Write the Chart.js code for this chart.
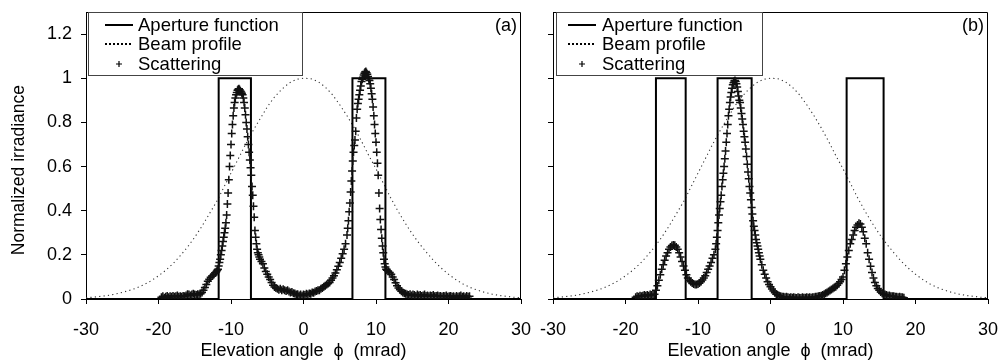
<!DOCTYPE html>
<html>
<head>
<meta charset="utf-8">
<script src="https://cdn.jsdelivr.net/npm/chart.js@4.4.0/dist/chart.umd.min.js"></script>
<style>
    html, body { margin: 0; padding: 0; background: #fff; }
    #wrap { position: relative; width: 999px; height: 362px; }
    #wrap canvas { position: absolute; left: 0; top: 0; }
</style>
</head>
<body>
<div id="wrap">
    <canvas id="chartA" width="999" height="362"></canvas>
    <canvas id="chartB" width="999" height="362"></canvas>
</div>
<script>
// ticks
var xTicks = [-30, -20, -10, 0, 10, 20, 30];
var yTickLabels = [0, 0.2, 0.4, 0.6, 0.8, 1, 1.2];

// beam profile (same in both panels)
var beamX = [-30, -29, -28, -27, -26, -25, -24, -23, -22, -21,
    -20, -19, -18, -17, -16, -15, -14, -13, -12, -11,
    -10, -9, -8, -7, -6, -5, -4, -3, -2, -1,
    0,
    1, 2, 3, 4, 5, 6, 7, 8, 9, 10,
    11, 12, 13, 14, 15, 16, 17, 18, 19, 20,
    21, 22, 23, 24, 25, 26, 27, 28, 29, 30];
var beamY = [0.006, 0.008, 0.012, 0.016, 0.022, 0.03, 0.039, 0.05, 0.065, 0.083,
    0.105, 0.13, 0.16, 0.196, 0.235, 0.28, 0.33, 0.385, 0.44, 0.505,
    0.57, 0.635, 0.70, 0.76, 0.815, 0.87, 0.915, 0.95, 0.978, 0.995,
    1.0,
    0.998, 0.985, 0.96, 0.925, 0.88, 0.83, 0.775, 0.715, 0.65, 0.59,
    0.525, 0.46, 0.4, 0.345, 0.295, 0.25, 0.21, 0.172, 0.14, 0.112,
    0.088, 0.068, 0.052, 0.04, 0.03, 0.022, 0.016, 0.012, 0.008, 0.006];

// aperture functions
var apertureAX = [-30, -11.7, -11.7, -7.25, -7.25, 6.75, 6.75, 11.3, 11.3, 30];
var apertureAY = [0, 0, 1, 1, 0, 0, 1, 1, 0, 0];
var apertureBX = [-30, -15.8, -15.8, -11.7, -11.7, -7.3, -7.3, -2.6, -2.6, 10.5, 10.5, 15.6, 15.6, 30];
var apertureBY = [0, 0, 1, 1, 0, 0, 1, 1, 0, 0, 1, 1, 0, 0];

// scattering, panel (a)
var scatAX = [
    -19.6, -19.4, -19.2, -19.0, -18.8, -18.6, -18.4, -18.2, -18.0,
    -17.8, -17.6, -17.4, -17.2, -17.0, -16.8, -16.6, -16.4, -16.2, -16.0,
    -15.8, -15.6, -15.4, -15.2, -15.0, -14.8, -14.6, -14.4, -14.2, -14.0,
    -13.8, -13.6, -13.4, -13.2, -13.0, -12.8, -12.6, -12.4, -12.2,
    -12.1, -12.0, -11.9, -11.8, -11.7, -11.6, -11.5, -11.4, -11.3, -11.2,
    -11.1, -11.0, -10.9, -10.8, -10.7, -10.6, -10.5, -10.4, -10.3, -10.2,
    -10.1, -10.0, -9.9, -9.8, -9.7, -9.6, -9.5, -9.4, -9.3, -9.2,
    -9.1, -9.0, -8.9, -8.8, -8.7, -8.6, -8.5, -8.4, -8.3, -8.2,
    -8.1, -8.0, -7.9, -7.8, -7.7, -7.6, -7.5, -7.4, -7.3, -7.2,
    -7.1, -7.0, -6.9, -6.8, -6.7, -6.6, -6.5, -6.4, -6.3, -6.2,
    -6.1, -6.0,
    -5.8, -5.6, -5.4, -5.2, -5.0, -4.8, -4.6, -4.4, -4.2, -4.0,
    -3.8, -3.6, -3.4, -3.2, -3.0, -2.8, -2.6, -2.4, -2.2, -2.0,
    -1.8, -1.6, -1.4, -1.2, -1.0, -0.8, -0.6, -0.4, -0.2, 0.0,
    0.2, 0.4, 0.6, 0.8, 1.0, 1.2, 1.4, 1.6, 1.8, 2.0,
    2.2, 2.4, 2.6, 2.8, 3.0, 3.2, 3.4, 3.6, 3.8, 4.0,
    4.2, 4.4, 4.6, 4.8, 5.0, 5.2, 5.4, 5.6, 5.8, 6.0,
    6.1, 6.2, 6.3, 6.4, 6.5, 6.6, 6.7, 6.8, 6.9, 7.0,
    7.1, 7.2, 7.3, 7.4, 7.5, 7.6, 7.7, 7.8, 7.9, 8.0,
    8.1, 8.2, 8.3, 8.4, 8.5, 8.6, 8.7, 8.8, 8.9, 9.0,
    9.1, 9.2, 9.3, 9.4, 9.5, 9.6, 9.7, 9.8, 9.9, 10.0,
    10.1, 10.2, 10.3, 10.4, 10.5, 10.6, 10.7, 10.8, 10.9, 11.0,
    11.1, 11.2, 11.3, 11.4, 11.5,
    11.7, 11.9, 12.1, 12.3, 12.5, 12.7, 12.9, 13.1, 13.3, 13.5,
    13.7, 13.9, 14.1, 14.3, 14.5, 14.7, 14.9, 15.1, 15.3, 15.5,
    15.7, 15.9, 16.1, 16.3, 16.5, 16.7, 16.9, 17.1, 17.3, 17.5,
    17.7, 17.9, 18.1, 18.3, 18.5, 18.7, 18.9, 19.1, 19.3, 19.5,
    19.7, 19.9, 20.1, 20.3, 20.5, 20.7, 20.9, 21.1, 21.3, 21.5,
    21.7, 21.9, 22.1, 22.3, 22.5, 22.7, 22.9];
var scatAY = [
    0.008, 0.012, 0.006, 0.01, 0.014, 0.008, 0.012, 0.01, 0.014,
    0.01, 0.012, 0.016, 0.01, 0.012, 0.01, 0.014, 0.012, 0.016, 0.022,
    0.02, 0.016, 0.02, 0.024, 0.02, 0.018, 0.022, 0.02, 0.024, 0.03,
    0.04, 0.052, 0.066, 0.08, 0.09, 0.098, 0.104, 0.11, 0.118,
    0.12, 0.125, 0.13, 0.135, 0.15, 0.165, 0.18, 0.2, 0.22, 0.24,
    0.26, 0.28, 0.3, 0.32, 0.345, 0.38, 0.43, 0.48, 0.54, 0.6,
    0.65, 0.7, 0.75, 0.79, 0.83, 0.865, 0.89, 0.91, 0.925, 0.935,
    0.945, 0.95, 0.952, 0.948, 0.942, 0.938, 0.932, 0.925, 0.91, 0.89,
    0.865, 0.835, 0.8, 0.77, 0.735, 0.7, 0.665, 0.63, 0.595, 0.56,
    0.51, 0.47, 0.42, 0.37, 0.31, 0.28, 0.25, 0.225, 0.21, 0.2,
    0.19, 0.18,
    0.17, 0.16, 0.14, 0.125, 0.112, 0.1, 0.088, 0.075, 0.062, 0.054,
    0.05, 0.046, 0.042, 0.046, 0.04, 0.044, 0.04, 0.036, 0.04, 0.034,
    0.03, 0.032, 0.026, 0.025, 0.02, 0.022, 0.016, 0.02, 0.015, 0.02,
    0.018, 0.024, 0.02, 0.025, 0.024, 0.03, 0.028, 0.034, 0.036, 0.04,
    0.04, 0.046, 0.05, 0.055, 0.06, 0.066, 0.07, 0.075, 0.085, 0.095,
    0.105, 0.118, 0.132, 0.148, 0.165, 0.185, 0.205, 0.225, 0.25, 0.29,
    0.32, 0.355, 0.395, 0.435, 0.485, 0.535, 0.58, 0.625, 0.665, 0.695,
    0.72, 0.76, 0.82, 0.86, 0.885, 0.905, 0.925, 0.945, 0.965, 0.985,
    0.995, 1.005, 1.015, 1.022, 1.028, 1.03, 1.025, 1.018, 1.008, 0.998,
    0.99, 0.975, 0.955, 0.93, 0.905, 0.87, 0.83, 0.79, 0.75, 0.71,
    0.665, 0.615, 0.56, 0.48, 0.41, 0.36, 0.315, 0.275, 0.24, 0.21,
    0.18, 0.16, 0.145, 0.135, 0.13,
    0.125, 0.12, 0.112, 0.1, 0.088, 0.074, 0.06, 0.05, 0.042, 0.035,
    0.03, 0.026, 0.024, 0.02, 0.018, 0.022, 0.016, 0.02, 0.018, 0.014,
    0.02, 0.016, 0.018, 0.014, 0.016, 0.02, 0.014, 0.016, 0.012, 0.016,
    0.014, 0.018, 0.012, 0.014, 0.016, 0.012, 0.014, 0.01, 0.014, 0.012,
    0.016, 0.01, 0.012, 0.014, 0.01, 0.012, 0.008, 0.014, 0.01, 0.012,
    0.016, 0.01, 0.012, 0.008, 0.014, 0.01, 0.012];

// scattering, panel (b)
var scatBX = [
    -18.6, -18.4, -18.2, -18.0, -17.8, -17.6, -17.4, -17.2, -17.0, -16.8,
    -16.6, -16.4, -16.2, -16.0, -15.8, -15.6, -15.4, -15.2, -15.0, -14.8,
    -14.6, -14.4, -14.2, -14.0, -13.8, -13.6, -13.4, -13.2, -13.0, -12.8,
    -12.6, -12.4, -12.2, -12.0, -11.8, -11.6, -11.4, -11.2, -11.0, -10.8,
    -10.6, -10.4, -10.2, -10.0, -9.8, -9.6, -9.4, -9.2, -9.0, -8.8,
    -8.6, -8.4, -8.2, -8.0, -7.8, -7.6,
    -7.5, -7.4, -7.3, -7.2, -7.1, -7.0, -6.9, -6.8, -6.7, -6.6,
    -6.5, -6.4, -6.3, -6.2, -6.1, -6.0, -5.9, -5.8, -5.7, -5.6,
    -5.5, -5.4, -5.3, -5.2, -5.1, -5.0, -4.9, -4.8, -4.7, -4.6,
    -4.5, -4.4, -4.3, -4.2, -4.1, -4.0, -3.9, -3.8, -3.7, -3.6,
    -3.5, -3.4, -3.3, -3.2, -3.1, -3.0, -2.9, -2.8, -2.7, -2.6,
    -2.5, -2.4, -2.3, -2.2, -2.1, -2.0, -1.9, -1.8, -1.7, -1.6,
    -1.5, -1.4,
    -1.2, -1.0, -0.8, -0.6, -0.4, -0.2, 0.0, 0.2, 0.4, 0.6,
    0.8, 1.0, 1.2, 1.4, 1.6, 1.8, 2.0, 2.2, 2.4, 2.6,
    2.8, 3.0, 3.2, 3.4, 3.6, 3.8, 4.0, 4.2, 4.4, 4.6,
    4.8, 5.0, 5.2, 5.4, 5.6, 5.8, 6.0, 6.2, 6.4, 6.6,
    6.8, 7.0, 7.2, 7.4, 7.6, 7.8, 8.0, 8.2, 8.4, 8.6,
    8.8, 9.0, 9.2, 9.4, 9.6, 9.8, 10.0, 10.2, 10.4, 10.6,
    10.8, 11.0, 11.2, 11.4, 11.6, 11.8, 12.0, 12.2, 12.4, 12.6,
    12.8, 13.0, 13.2, 13.4, 13.6, 13.8, 14.0, 14.2, 14.4, 14.6,
    14.8, 15.0, 15.2, 15.4, 15.6, 15.8, 16.0, 16.2, 16.4, 16.6,
    16.8, 17.0, 17.2, 17.4, 17.6, 17.8, 18.0, 18.2, 18.4];
var scatBY = [
    0.008, 0.012, 0.01, 0.015, 0.012, 0.015, 0.018, 0.015, 0.018, 0.015,
    0.02, 0.018, 0.02, 0.022, 0.04, 0.06, 0.085, 0.11, 0.135, 0.155,
    0.175, 0.195, 0.21, 0.225, 0.235, 0.242, 0.245, 0.243, 0.235, 0.225,
    0.21, 0.19, 0.17, 0.15, 0.13, 0.11, 0.095, 0.085, 0.078, 0.072,
    0.068, 0.066, 0.066, 0.068, 0.072, 0.078, 0.086, 0.095, 0.105, 0.12,
    0.135, 0.15, 0.165, 0.185, 0.2, 0.225,
    0.25, 0.28, 0.31, 0.345, 0.38, 0.41, 0.44, 0.47, 0.51, 0.54,
    0.57, 0.6, 0.635, 0.67, 0.71, 0.75, 0.79, 0.83, 0.86, 0.89,
    0.915, 0.935, 0.955, 0.97, 0.98, 0.987, 0.99, 0.985, 0.975, 0.96,
    0.94, 0.92, 0.9, 0.89, 0.865, 0.84, 0.815, 0.79, 0.76, 0.735,
    0.71, 0.68, 0.645, 0.61, 0.575, 0.545, 0.51, 0.48, 0.45, 0.415,
    0.385, 0.355, 0.33, 0.31, 0.29, 0.27, 0.255, 0.24, 0.225, 0.21,
    0.195, 0.18,
    0.155, 0.13, 0.112, 0.095, 0.078, 0.066, 0.055, 0.045, 0.036, 0.028,
    0.022, 0.018, 0.015, 0.012, 0.01, 0.01, 0.008, 0.01, 0.008, 0.006,
    0.008, 0.006, 0.008, 0.006, 0.005, 0.008, 0.006, 0.005, 0.008, 0.006,
    0.006, 0.008, 0.006, 0.008, 0.006, 0.008, 0.008, 0.01, 0.01, 0.012,
    0.014, 0.015, 0.018, 0.022, 0.026, 0.03, 0.034, 0.038, 0.043, 0.048,
    0.052, 0.056, 0.062, 0.07, 0.078, 0.088, 0.1, 0.13, 0.16, 0.19,
    0.22, 0.25, 0.27, 0.29, 0.31, 0.325, 0.335, 0.343, 0.34, 0.325,
    0.305, 0.275, 0.25, 0.21, 0.18, 0.148, 0.12, 0.095, 0.075, 0.06,
    0.048, 0.04, 0.032, 0.026, 0.022, 0.02, 0.018, 0.015, 0.016, 0.013,
    0.012, 0.012, 0.01, 0.01, 0.008, 0.01, 0.008, 0.008, 0.006];

var FONT = '"Liberation Sans", Arial, Helvetica, sans-serif';
Chart.defaults.font.family = FONT;
Chart.defaults.color = '#000';

function pts(xs, ys) {
    return xs.map((x, i) => ({ x: x, y: ys[i] }));
}

function makeDatasets(apX, apY, scX, scY) {
    return [{
        label: 'Aperture function',
        data: pts(apX, apY),
        showLine: true,
        borderColor: '#000',
        borderWidth: 2,
        pointRadius: 0,
        order: 1
    }, {
        label: 'Beam profile',
        data: pts(beamX, beamY),
        showLine: true,
        borderColor: '#333',
        borderWidth: 1.1,
        borderDash: [1.2, 3.2],
        pointRadius: 0,
        order: 2
    }, {
        label: 'Scattering',
        data: pts(scX, scY),
        showLine: false,
        pointStyle: 'cross',
        pointRadius: 4,
        pointBorderWidth: 1.5,
        borderColor: '#111',
        order: 0
    }];
}

// frame, legend box and panel tag
var panelPlugin = {
    id: 'panel',
    afterDraw(chart, args, o) {
        var a = chart.chartArea, ctx = chart.ctx;
        ctx.save();
        ctx.strokeStyle = '#000';
        ctx.lineWidth = 1;
        ctx.beginPath();
        ctx.moveTo(a.left, a.top + 0.5);
        ctx.lineTo(a.right - 0.5, a.top + 0.5);
        ctx.lineTo(a.right - 0.5, a.bottom);
        ctx.stroke();

        // legend
        var x0 = a.left + o.dx, y0 = a.top;
        ctx.fillStyle = '#fff';
        ctx.fillRect(x0, y0, o.w, o.h);
        ctx.strokeStyle = '#444';
        ctx.strokeRect(x0 + 0.5, y0 + 0.5, o.w, o.h);
        ctx.font = '18.5px ' + FONT;
        ctx.textBaseline = 'middle';
        ctx.textAlign = 'left';
        chart.data.datasets.forEach((ds, i) => {
            var ry = y0 + o.rows[i];
            var sx = x0 + o.sx - o.dx;
            ctx.strokeStyle = '#000';
            if (ds.pointStyle === 'cross') {
                var cx = sx + 14;
                ctx.lineWidth = 1.2;
                ctx.beginPath();
                ctx.moveTo(cx - 3, ry); ctx.lineTo(cx + 3, ry);
                ctx.moveTo(cx, ry - 3); ctx.lineTo(cx, ry + 3);
                ctx.stroke();
            } else {
                ctx.lineWidth = 2;
                ctx.setLineDash(ds.borderDash ? [2, 2] : []);
                ctx.beginPath();
                ctx.moveTo(sx, ry);
                ctx.lineTo(sx + 28, ry);
                ctx.stroke();
                ctx.setLineDash([]);
            }
            ctx.fillStyle = '#000';
            ctx.fillText(ds.label, x0 + o.tx - o.dx, ry + 1);
        });

        ctx.font = '18px ' + FONT;
        ctx.textAlign = 'right';
        ctx.fillText(o.tag, a.right - 4, a.top + 14);
        ctx.restore();
    }
};

function makeChart(id, datasets, opt) {
    return new Chart(document.getElementById(id), {
        type: 'scatter',
        data: { datasets: datasets },
        plugins: [panelPlugin],
        options: {
            responsive: false,
            animation: false,
            events: [],
            layout: { padding: { left: opt.padLeft, right: opt.padRight, top: 12, bottom: 0 } },
            plugins: {
                legend: { display: false },
                tooltip: { enabled: false },
                panel: opt.panel
            },
            scales: {
                x: {
                    type: 'linear',
                    min: -30,
                    max: 30,
                    afterBuildTicks: s => { s.ticks = xTicks.map(v => ({ value: v })); },
                    afterFit: s => {
                        s.height = 63;
                        s.paddingLeft = 0;
                        s.paddingRight = 0;
                    },
                    ticks: {
                        font: { size: 18 },
                        padding: 15,
                        maxRotation: 0,
                        callback: v => String(v)
                    },
                    grid: { drawOnChartArea: false, tickLength: 5, color: '#000', tickColor: '#000' },
                    border: { color: '#000', width: 1 },
                    title: {
                        display: true,
                        text: 'Elevation angle  \u03D5  (mrad)',
                        font: { size: 18 },
                        padding: { top: 0, bottom: 0 }
                    }
                },
                y: {
                    type: 'linear',
                    min: 0,
                    max: 1.3,
                    afterFit: s => {
                        s.width = opt.yWidth;
                        s.paddingTop = 0;
                        s.paddingBottom = 0;
                    },
                    ticks: {
                        stepSize: 0.1,
                        font: { size: 18 },
                        padding: 9,
                        callback: v => {
                            if (!opt.yLabels) return '';
                            return yTickLabels.some(t => Math.abs(t - v) < 1e-6) ? String(+v.toFixed(1)) : '';
                        }
                    },
                    grid: { drawOnChartArea: false, tickLength: 5, color: '#000', tickColor: '#000' },
                    border: { color: '#000', width: 1 },
                    title: {
                        display: opt.yLabels,
                        text: 'Normalized irradiance      ',
                        font: { size: 17.5 },
                        padding: { top: 9, bottom: 0 }
                    }
                }
            }
        }
    });
}

makeChart('chartA', makeDatasets(apertureAX, apertureAY, scatAX, scatAY), {
    padLeft: 0, padRight: 478, yWidth: 86, yLabels: true,
    panel: { tag: '(a)', dx: 2, w: 214, h: 63, sx: 19, tx: 52, rows: [13, 32, 52] }
});

makeChart('chartB', makeDatasets(apertureBX, apertureBY, scatBX, scatBY), {
    padLeft: 533, padRight: 11, yWidth: 20, yLabels: false,
    panel: { tag: '(b)', dx: 3, w: 206, h: 63, sx: 15, tx: 49, rows: [13, 32, 52] }
});
</script>
</body>
</html>
